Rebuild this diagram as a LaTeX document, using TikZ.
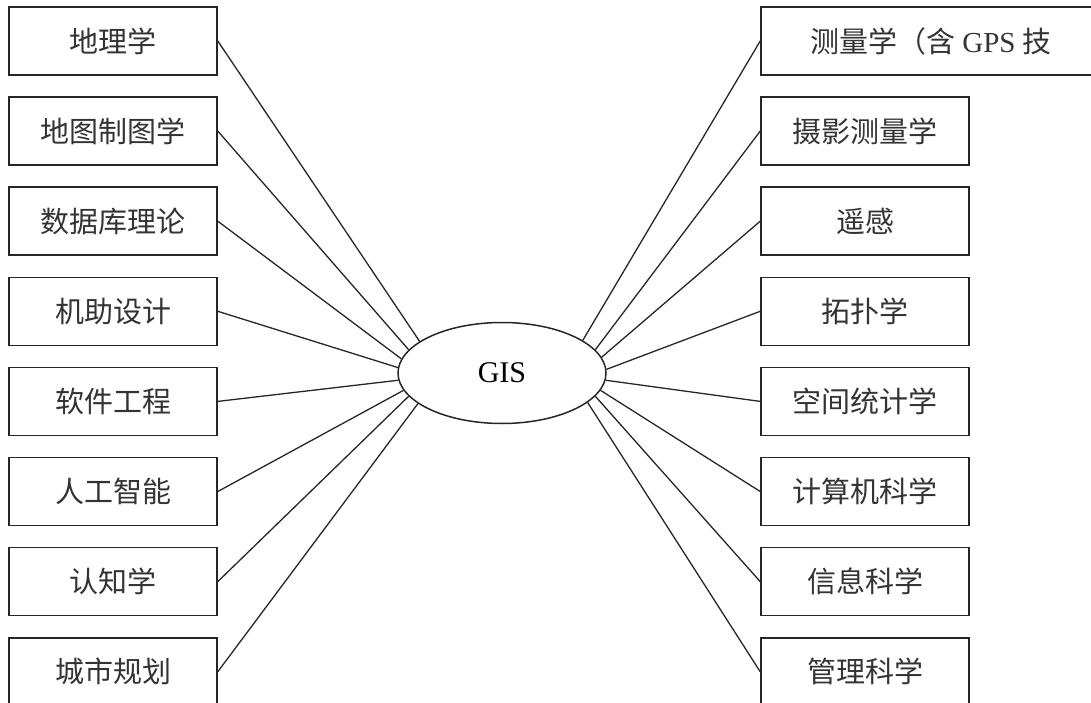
\documentclass[tikz,border=0pt]{standalone}
\usepackage{fontspec}
\setmainfont{Liberation Serif}
\newfontfamily\cjk{Noto Sans CJK SC}
\usetikzlibrary{shapes.geometric}
\begin{document}
\begin{tikzpicture}[x=1pt,y=-1pt,
  box/.style={draw=black!85,line width=1.6pt,minimum width=208pt,minimum height=68pt,inner sep=0pt,
    font=\cjk\fontsize{29}{32}\selectfont,text=black!80},
  link/.style={draw=black!85,line width=1.3pt}]
\useasboundingbox (0,0) rectangle (1091,703);
\clip (0,0) rectangle (1091,703);
% central ellipse
\node[ellipse,draw=black!85,line width=1.5pt,minimum width=208pt,minimum height=101pt,inner sep=0pt,
  font=\fontsize{30}{32}\selectfont] (gis) at (502,373) {GIS};
% left boxes
\node[box] (l1) at (113,41.0) {地理学};
\node[box] (l2) at (113,131.1) {地图制图学};
\node[box] (l3) at (113,221.2) {数据库理论};
\node[box] (l4) at (113,311.3) {机助设计};
\node[box] (l5) at (113,401.4) {软件工程};
\node[box] (l6) at (113,491.5) {人工智能};
\node[box] (l7) at (113,581.6) {认知学};
\node[box] (l8) at (113,671.7) {城市规划};
% right boxes
\node[box,minimum width=340pt] (r1) at (931,41.0) {测量学（含\ {\rmfamily GPS} 技};
\node[box] (r2) at (865,131.1) {摄影测量学};
\node[box] (r3) at (865,221.2) {遥感};
\node[box] (r4) at (865,311.3) {拓扑学};
\node[box] (r5) at (865,401.4) {空间统计学};
\node[box] (r6) at (865,491.5) {计算机科学};
\node[box] (r7) at (865,581.6) {信息科学};
\node[box] (r8) at (865,671.7) {管理科学};
% connectors left
\draw[link] (l1.east) -- (gis.159.5);
\draw[link] (l2.east) -- (gis.166);
\draw[link] (l3.east) -- (gis.172);
\draw[link] (l4.east) -- (gis.177);
\draw[link] (l5.east) -- (gis.184);
\draw[link] (l6.east) -- (gis.190);
\draw[link] (l7.east) -- (gis.194);
\draw[link] (l8.east) -- (gis.200);
% connectors right
\draw[link] (r1.west) -- (gis.22.8);
\draw[link] (r2.west) -- (gis.14.2);
\draw[link] (r3.west) -- (gis.9.5);
\draw[link] (r4.west) -- (gis.2.8);
\draw[link] (r5.west) -- (gis.-4.5);
\draw[link] (r6.west) -- (gis.-10);
\draw[link] (r7.west) -- (gis.-14);
\draw[link] (r8.west) -- (gis.-19);
\end{tikzpicture}
\end{document}
